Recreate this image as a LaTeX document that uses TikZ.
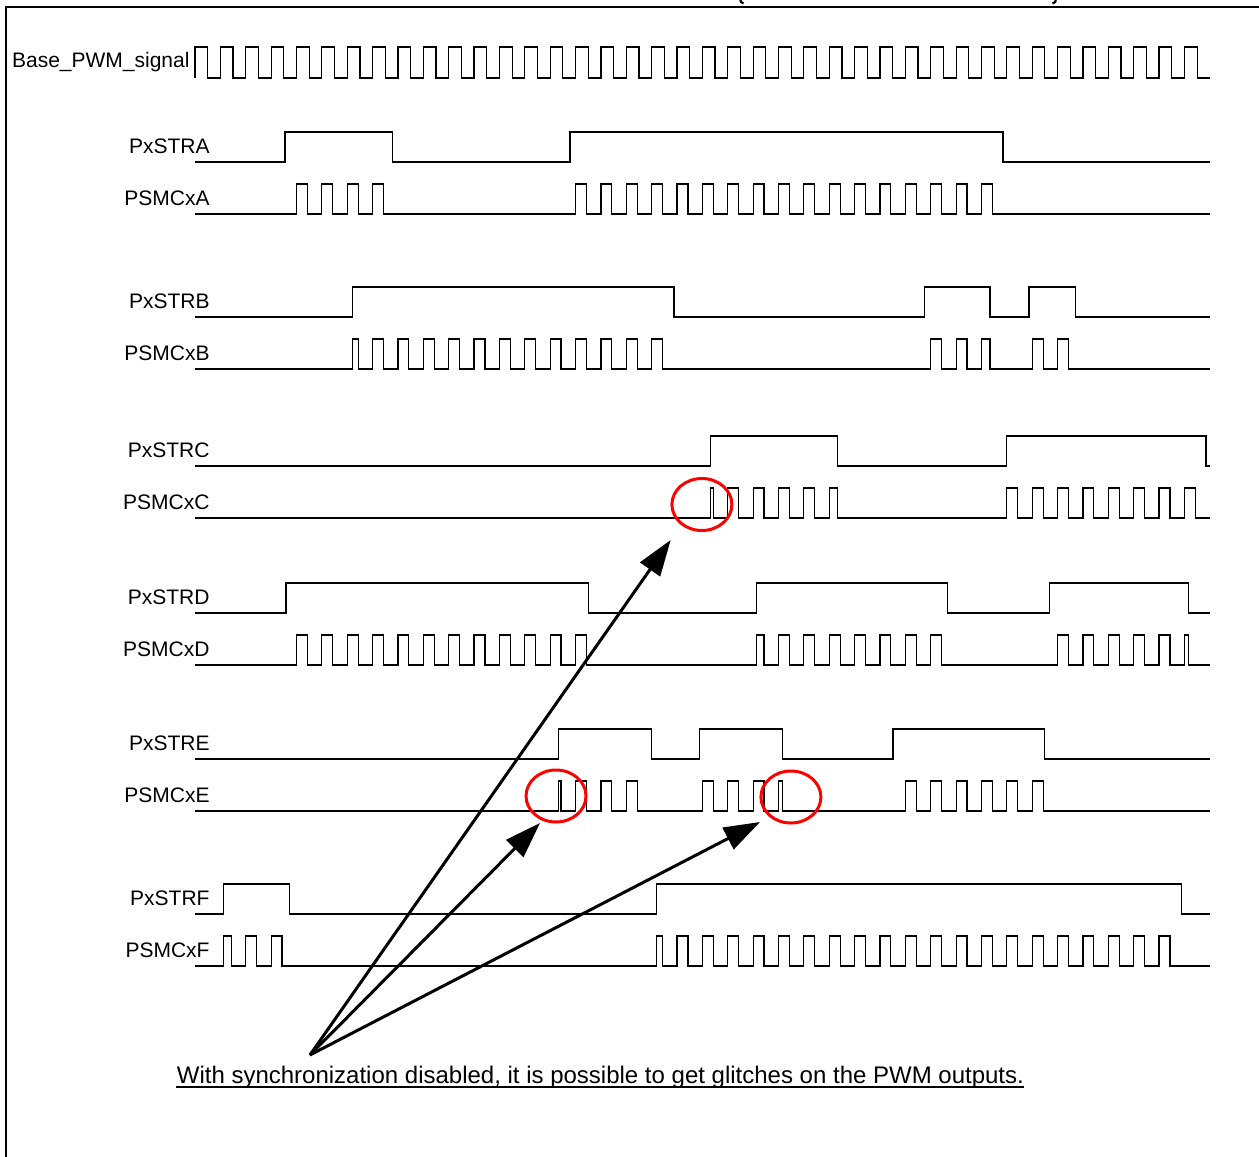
\documentclass[tikz,border=0pt]{standalone}
\usepackage{fontspec}
\setmainfont{Liberation Sans}
\usetikzlibrary{arrows.meta}
\usetikzlibrary{shapes.geometric}

\begin{document}
\begin{tikzpicture}
	[x=12.685pt,y=-0.5pt,
	every node/.style={font=\fontsize{10.5}{12}\selectfont,inner sep=0pt},
	sig/.style={line width=.6pt},
	lbl/.style={anchor=east},
	glitch/.style={ellipse,draw=red,line width=1.5pt,minimum width=30pt,minimum height=26pt},
	callout/.style={line width=1.5pt,-{Triangle[length=18pt,width=12pt]}}]
	\useasboundingbox (-7.686,0) rectangle (41.94,1157);
	
	% frame and the ends of the cut title above it
	\draw[sig] (-7.45,1157) -- (-7.45,7) -- (41.94,7);
	\draw[line width=1.1pt] (21.5,0) .. controls (21.51,2) .. (21.62,3.5);
	\draw[line width=1.1pt] (33.93,0) .. controls (33.92,2) .. (33.8,3.5);
	
	% labels
	\node[lbl] (base) at (-0.2,62) {Base\_PWM\_signal};
	\foreach \n/\y in {A/162,B/317,C/466,D/613,E/759,F/914}
	{
		\node[lbl] (str\n) at (0.59,\y-16) {PxSTR\n};
		\node[lbl] (psmc\n) at (0.59,\y+36) {PSMCx\n};
	}
	
	% base pwm
	\draw[sig] (0,78) foreach \k in {0,...,39} {-- (\k,78) |- (\k+.5,47) -- (\k+.5,78)} -- (40,78);
	
	% strobe inputs
	\draw[sig] (0,162) foreach \r/\f in {3.55/7.77,14.78/31.85} {-- (\r,162) |- (\f,132) -- (\f,162)} -- (40,162);
	\draw[sig] (0,317) foreach \r/\f in {6.2/18.88,28.75/31.34,32.87/34.7} {-- (\r,317) |- (\f,287) -- (\f,317)} -- (40,317);
	\draw[sig] (0,466) foreach \r/\f in {20.33/25.34,32/39.85} {-- (\r,466) |- (\f,436) -- (\f,466)} -- (40,466);
	\draw[sig] (0,613) foreach \r/\f in {3.59/15.5,22.12/29.66,33.69/39.15} {-- (\r,613) |- (\f,583) -- (\f,613)} -- (40,613);
	\draw[sig] (0,759) foreach \r/\f in {14.32/18,19.89/23.17,27.51/33.49} {-- (\r,759) |- (\f,729) -- (\f,759)} -- (40,759);
	\draw[sig] (0,914) foreach \r/\f in {1.13/3.72,18.19/38.87} {-- (\r,914) |- (\f,884) -- (\f,914)} -- (40,914);
	
	% outputs
	\draw[sig] (0,214)
		foreach \k in {4,...,7} {-- (\k,214) |- (\k+.43,184) -- (\k+.43,214)}
		foreach \k in {15,...,31} {-- (\k,214) |- (\k+.43,184) -- (\k+.43,214)}
		-- (40,214);
	\draw[sig] (0,369) -- (6.2,369) |- (6.43,339) -- (6.43,369)
		foreach \k in {7,...,18} {-- (\k,369) |- (\k+.43,339) -- (\k+.43,369)}
		foreach \k in {29,30} {-- (\k,369) |- (\k+.43,339) -- (\k+.43,369)}
		-- (31,369) |- (31.34,339) -- (31.34,369)
		foreach \k in {33,34} {-- (\k,369) |- (\k+.43,339) -- (\k+.43,369)}
		-- (40,369);
	\draw[sig] (0,518) -- (20.33,518) |- (20.43,488) -- (20.43,518)
		foreach \k in {21,...,24} {-- (\k,518) |- (\k+.43,488) -- (\k+.43,518)}
		-- (25,518) |- (25.34,488) -- (25.34,518)
		foreach \k in {32,...,39} {-- (\k,518) |- (\k+.43,488) -- (\k+.43,518)}
		-- (40,518);
	\draw[sig] (0,665)
		foreach \k in {4,...,15} {-- (\k,665) |- (\k+.43,635) -- (\k+.43,665)}
		-- (22.12,665) |- (22.43,635) -- (22.43,665)
		foreach \k in {23,...,29} {-- (\k,665) |- (\k+.43,635) -- (\k+.43,665)}
		foreach \k in {34,...,38} {-- (\k,665) |- (\k+.43,635) -- (\k+.43,665)}
		-- (39,665) |- (39.15,635) -- (39.15,665)
		-- (40,665);
	\draw[sig] (0,811) -- (14.32,811) |- (14.43,781) -- (14.43,811)
		foreach \k in {15,...,17} {-- (\k,811) |- (\k+.43,781) -- (\k+.43,811)}
		foreach \k in {20,...,22} {-- (\k,811) |- (\k+.43,781) -- (\k+.43,811)}
		-- (23,811) |- (23.17,781) -- (23.17,811)
		foreach \k in {28,...,33} {-- (\k,811) |- (\k+.43,781) -- (\k+.43,811)}
		-- (40,811);
	\draw[sig] (0,966) -- (1.13,966) |- (1.43,936) -- (1.43,966)
		foreach \k in {2,3} {-- (\k,966) |- (\k+.43,936) -- (\k+.43,966)}
		-- (18.19,966) |- (18.43,936) -- (18.43,966)
		foreach \k in {19,...,38} {-- (\k,966) |- (\k+.43,936) -- (\k+.43,966)}
		-- (40,966);
	
	% glitch marks
	\node[glitch] (gC) at (19.98,504.5) {};
	\node[glitch] (gE1) at (14.23,796) {};
	\node[glitch] (gE2) at (23.49,797) {};
	
	\coordinate (src) at (4.53,1055);
	\coordinate (tipC) at (18.75,540);
	\coordinate (tipE1) at (13.6,823);
	\coordinate (tipE2) at (22.27,822);
	\draw[callout] (src) -- (tipC);
	\draw[callout] (src) -- (tipE1);
	\draw[callout] (src) -- (tipE2);
	
	\node[anchor=base,font=\fontsize{12}{14}\selectfont] (note) at (15.98,1083) {With synchronization disabled, it is possible to get glitches on the PWM outputs.};
	\draw[line width=1pt] ([yshift=-2pt]note.base west) -- ([yshift=-2pt]note.base east);
\end{tikzpicture}
\end{document}
